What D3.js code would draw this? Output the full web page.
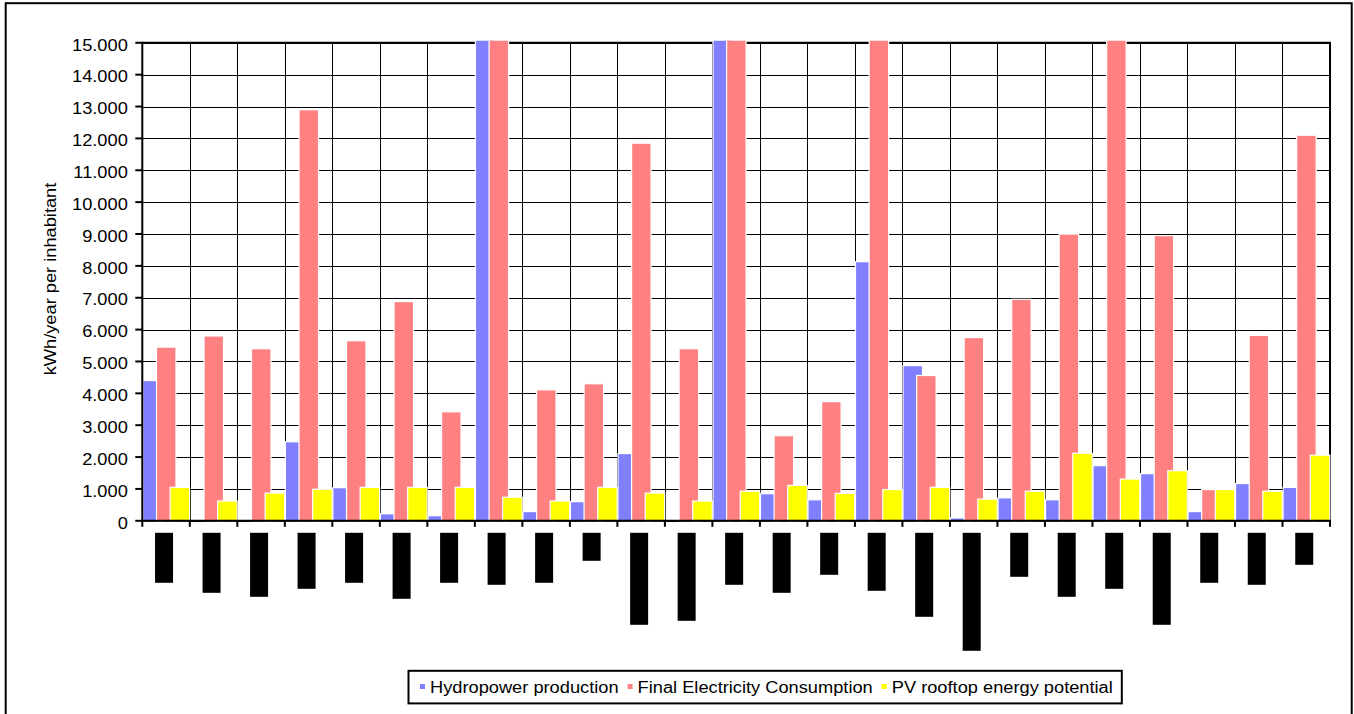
<!DOCTYPE html>
<html>
<head>
<meta charset="utf-8">
<script src="https://cdn.jsdelivr.net/npm/d3@7"></script>
<style>
  body { margin: 0; background: #fff; }
  svg { display: block; }
  text { font-family: "Liberation Sans", Arial, sans-serif; fill: #000; }
</style>
</head>
<body>
<svg id="chart" width="1354" height="714"></svg>
<script>
// Category ids (the category names are covered by black boxes)
const categories = [1, 2, 3, 4, 5, 6, 7, 8, 9, 10, 11, 12, 13, 14, 15, 16, 17, 18, 19, 20, 21, 22, 23, 24, 25];

// kWh/year per inhabitant
const hydropower = [4400, 0, 0, 2480, 1040, 220, 160, 38000, 290, 600, 2110, 0, 26000, 850, 660, 8130, 4870, 90, 720, 660, 1730, 1480, 290, 1170, 1050];
const consumption = [5450, 5800, 5400, 12900, 5650, 6880, 3420, 47000, 4110, 4300, 11850, 5400, 24000, 2670, 3740, 15600, 4560, 5750, 6950, 9000, 16000, 8950, 980, 5820, 12100];
const pvRooftop = [1050, 620, 870, 990, 1050, 1050, 1050, 740, 620, 1050, 870, 620, 930, 1110, 860, 980, 1050, 680, 930, 2120, 1310, 1570, 980, 930, 2060];

// Length of the blacked-out label box under each category
const labelMask = [50, 60, 64, 56, 50, 66, 50, 52, 50, 28, 92, 88, 52, 60, 42, 58, 84, 118, 44, 64, 56, 92, 50, 52, 32];

const yTicks = d3.range(0, 15001, 1000);
const seriesNames = ["Hydropower production", "Final Electricity Consumption", "PV rooftop energy potential"];
const seriesColors = ["#8080FF", "#FF8080", "#FFFF00"];
const seriesValues = [hydropower, consumption, pvRooftop];

const fmt = v => d3.format(",")(v).replace(/,/g, ".");

const svg = d3.select("#chart");
const plot = { left: 142.3, right: 1330, top: 42.8, bottom: 520.8 };
const STRETCH = 1.14;

function stretch(sel) {
  sel.each(function () {
    const L = this.getComputedTextLength();
    this.setAttribute("textLength", L * STRETCH);
    this.setAttribute("lengthAdjust", "spacingAndGlyphs");
  });
}

const x = d3.scaleBand().domain(categories).range([plot.left, plot.right]).paddingInner(0).paddingOuter(0);
const y = d3.scaleLinear().domain([0, 15000]).range([plot.bottom, plot.top]);
const maskScale = d3.scaleLinear().domain([0, 100]).range([0, 100]);

// outer chart frame
svg.append("rect")
  .attr("x", 5.7).attr("y", 3.2).attr("width", 1346).attr("height", 730)
  .attr("fill", "none").attr("stroke", "#000").attr("stroke-width", 2);

// horizontal gridlines
svg.append("g").selectAll("line").data(yTicks).join("line")
  .attr("x1", plot.left).attr("x2", plot.right)
  .attr("y1", d => Math.round(y(d)) + 0.5).attr("y2", d => Math.round(y(d)) + 0.5)
  .attr("stroke", "#000").attr("stroke-width", 1);

// vertical gridlines at category boundaries
const bounds = categories.map(c => x(c)).concat([plot.right]);
svg.append("g").selectAll("line").data(bounds).join("line")
  .attr("x1", d => Math.round(d) + 0.5).attr("x2", d => Math.round(d) + 0.5)
  .attr("y1", plot.top).attr("y2", plot.bottom)
  .attr("stroke", "#000").attr("stroke-width", 1);

// plot frame (top and right)
svg.append("path")
  .attr("d", `M${plot.left},${plot.top}H${plot.right}V${plot.bottom}`)
  .attr("fill", "none").attr("stroke", "#000").attr("stroke-width", 2);

// bars
svg.append("clipPath").attr("id", "plotClip")
  .append("rect").attr("x", plot.left - 2).attr("y", 40.8)
  .attr("width", plot.right - plot.left + 4).attr("height", plot.bottom - 40.8 + 2);

const band = x.bandwidth();
const barW = band * 0.41;
const step = band * 0.287;
const offset = band * 0.012;

const barsG = svg.append("g").attr("clip-path", "url(#plotClip)");
seriesValues.forEach((vals, si) => {
  barsG.append("g").selectAll("rect").data(vals.map((v, i) => ({ v, c: categories[i] }))).join("rect")
    .attr("x", d => x(d.c) + offset + si * step)
    .attr("width", barW)
    .attr("y", d => y(d.v))
    .attr("height", d => y(0) - y(d.v))
    .attr("fill", seriesColors[si])
    .attr("stroke", d => d.v > 0 ? "#fff" : "none")
    .attr("stroke-width", 1.2);
});

// y axis
const yAxis = svg.append("g");
yAxis.append("line")
  .attr("x1", plot.left).attr("x2", plot.left)
  .attr("y1", plot.top - 1).attr("y2", plot.bottom + 1)
  .attr("stroke", "#000").attr("stroke-width", 2);
yAxis.selectAll("line.tick").data(yTicks).join("line").attr("class", "tick")
  .attr("x1", plot.left - 7).attr("x2", plot.left)
  .attr("y1", d => y(d)).attr("y2", d => y(d))
  .attr("stroke", "#000").attr("stroke-width", 2);
yAxis.selectAll("text").data(yTicks).join("text")
  .attr("x", 127.8).attr("y", d => y(d) + 7.7)
  .attr("text-anchor", "end").attr("font-size", 16)
  .text(d => fmt(d))
  .call(stretch);

// x axis
const xAxis = svg.append("g");
xAxis.append("line")
  .attr("x1", plot.left - 1).attr("x2", plot.right + 1)
  .attr("y1", plot.bottom).attr("y2", plot.bottom)
  .attr("stroke", "#000").attr("stroke-width", 2);
xAxis.selectAll("line.tick").data(bounds).join("line").attr("class", "tick")
  .attr("x1", d => d).attr("x2", d => d)
  .attr("y1", plot.bottom).attr("y2", plot.bottom + 6)
  .attr("stroke", "#000").attr("stroke-width", 2);

// blacked-out category labels
xAxis.selectAll("rect").data(labelMask.map((m, i) => ({ m, c: categories[i] }))).join("rect")
  .attr("x", d => x(d.c) + band / 2 - 2 - 9)
  .attr("y", 532.8)
  .attr("width", 18)
  .attr("height", d => maskScale(d.m))
  .attr("fill", "#000");

// y axis title
svg.append("text")
  .attr("transform", "translate(55.5,279) rotate(-90)")
  .attr("text-anchor", "middle").attr("font-size", 16)
  .text("kWh/year per inhabitant")
  .call(stretch);

// legend
const legend = svg.append("g");
const legBox = legend.append("rect")
  .attr("y", 670.8).attr("height", 32.6)
  .attr("fill", "#fff").attr("stroke", "#000").attr("stroke-width", 2);
let cx = 420;
const legY = 687;
seriesNames.forEach((name, i) => {
  legend.append("rect")
    .attr("x", cx).attr("y", legY - 3).attr("width", 5).attr("height", 5)
    .attr("fill", seriesColors[i]);
  const t = legend.append("text")
    .attr("x", cx + 10).attr("y", legY + 6)
    .attr("font-size", 16)
    .text(name)
    .call(stretch);
  cx = cx + 10 + +t.attr("textLength") + 9;
});
legBox.attr("x", 408.5).attr("width", cx - 408.5);
</script>
</body>
</html>
